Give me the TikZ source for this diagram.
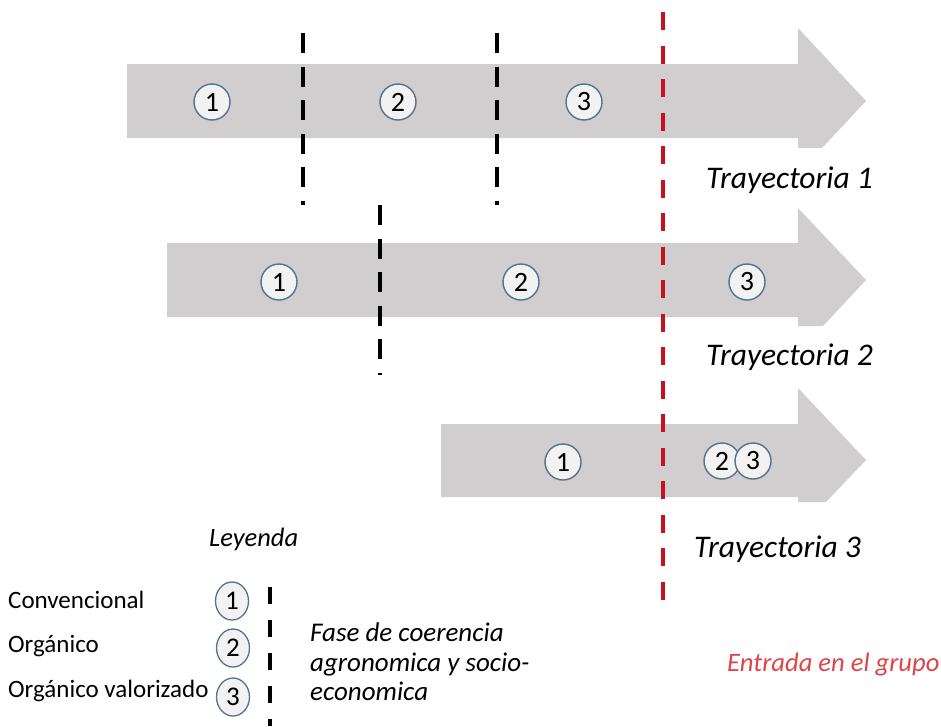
\documentclass[tikz,border=0pt]{standalone}
\usepackage{fontspec}
\setmainfont{Carlito}
\usetikzlibrary{shapes.geometric}
\definecolor{arrowgray}{RGB}{208,206,206}
\definecolor{circfill}{RGB}{242,242,242}
\definecolor{circline}{RGB}{88,112,138}
\definecolor{redline}{RGB}{200,16,30}
\definecolor{redtext}{RGB}{222,68,72}
\tikzset{
  track/.style={fill=arrowgray, draw=none},
  num/.style={circle, draw=circline, fill=circfill, line width=1.4pt, minimum size=36pt, inner sep=0pt, font=\fontsize{28}{28}\selectfont},
  legnum/.style={ellipse, draw=circline, fill=circfill, line width=1.3pt, minimum width=33pt, minimum height=38pt, inner sep=0pt, font=\fontsize{27}{27}\selectfont},
  phase/.style={draw=black, line width=3.5pt, dash pattern=on 20pt off 13.5pt},
  entry/.style={draw=redline, line width=3.5pt, dash pattern=on 18pt off 15.5pt},
  traylabel/.style={anchor=base west, inner sep=0pt, font=\fontsize{31.5}{31.5}\selectfont\itshape},
  legtext/.style={anchor=base west, inner sep=0pt, font=\fontsize{25}{25}\selectfont}
}
\begin{document}
\begin{tikzpicture}[x=1pt,y=-1pt]
\useasboundingbox (0,0) rectangle (941,726);
% trajectory arrows
\fill[track] (127,64) -- (798,64) -- (798,28) -- (866,101) -- (822,148) -- (798,148) -- (798,138) -- (127,138) -- cycle;
\fill[track] (167,243) -- (798,243) -- (798,208) -- (866,280) -- (823,326) -- (798,326) -- (798,317) -- (167,317) -- cycle;
\fill[track] (441,424) -- (798,424) -- (798,388) -- (866,460) -- (826,502) -- (798,502) -- (798,497) -- (441,497) -- cycle;
% phase boundaries
\coordinate (pa1) at (303,33);  \coordinate (pa2) at (303,205);
\coordinate (pb1) at (497,33);  \coordinate (pb2) at (497,205);
\coordinate (pc1) at (380,205); \coordinate (pc2) at (380,375);
\coordinate (red1) at (663,12); \coordinate (red2) at (663,600);
\coordinate (leg1) at (270,587); \coordinate (leg2) at (270,726);
\draw[phase] (pa1) -- (pa2);
\draw[phase] (pb1) -- (pb2);
\draw[phase] (pc1) -- (pc2);
\draw[entry] (red1) -- (red2);
\draw[phase, dash pattern=on 17pt off 16pt] (leg1) -- (leg2);
% circles trajectory 1
\node[num] (t1a) at (212,102) {1};
\node[num] (t1b) at (398,102) {2};
\node[num] (t1c) at (584,102) {3};
% trajectory 2
\node[num] (t2a) at (279,282) {1};
\node[num] (t2b) at (521,282) {2};
\node[num] (t2c) at (747,282) {3};
% trajectory 3
\node[num] (t3a) at (563,462) {1};
\node[num] (t3b) at (722,461) {2};
\node[num] (t3c) at (753,461) {3};
% labels
\node[traylabel] (lab1) at (706,188) {Trayectoria 1};
\node[traylabel] (lab2) at (706,365) {Trayectoria 2};
\node[traylabel] (lab3) at (694,557) {Trayectoria 3};
\node[anchor=base west, inner sep=0pt, text=redtext, font=\fontsize{26.6}{26.6}\selectfont\itshape] (entrada) at (727,671) {Entrada en el grupo};
% legend
\node[anchor=base west, inner sep=0pt, font=\fontsize{26.5}{26.5}\selectfont\itshape] (leyenda) at (209,546) {Leyenda};
\node[legtext] (lconv) at (8,608) {Convencional};
\node[legtext] (lorg) at (8,652) {Orgánico};
\node[legtext] (lval) at (8,697) {Orgánico valorizado};
\node[legnum] (c1) at (232,601) {1};
\node[legnum] (c2) at (233,648) {2};
\node[legnum] (c3) at (233,697) {3};
\node[anchor=west, inner sep=0pt, align=left, font=\fontsize{27}{29.5}\selectfont\itshape] (fase) at (310,662) {Fase de coerencia\\agronomica y socio-\\economica};
\end{tikzpicture}
\end{document}
